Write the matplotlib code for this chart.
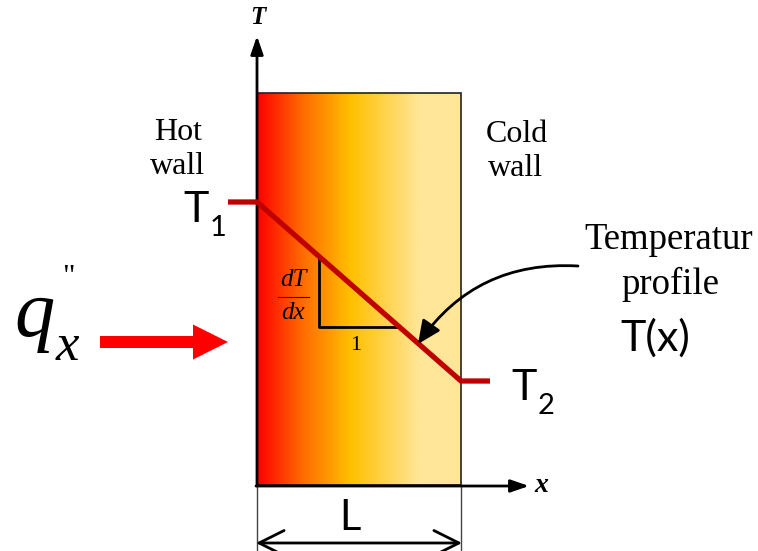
import matplotlib.pyplot as plt
import numpy as np
from matplotlib.colors import LinearSegmentedColormap
from matplotlib.patches import FancyArrow, FancyArrowPatch, Rectangle

# wall geometry (pixel coordinates, y downwards)
wall_x = [257, 461]
wall_y = [93, 485]
# gradient stops across the wall
grad_pos = [0.0, 0.22, 0.46, 0.80, 1.0]
grad_col = ['#FF0000', '#FF6A00', '#FFC000', '#FFE699', '#FFE699']
# temperature profile
profile_x = [228, 257, 461, 490]
profile_y = [202, 202, 381, 381]
# slope triangle
tri_x = [319, 319, 398]
tri_y = [257, 327, 327]

serif = 'Liberation Serif'
sans = 'Lato'

fig = plt.figure(figsize=(7.58, 5.51), dpi=100)
ax = fig.add_axes([0, 0, 1, 1])
ax.set_xlim(0, 758)
ax.set_ylim(551, 0)
ax.axis('off')

# gradient wall
cmap = LinearSegmentedColormap.from_list('wall', list(zip(grad_pos, grad_col)))
grad = np.linspace(0, 1, 400).reshape(1, -1)
ax.imshow(grad, cmap=cmap, aspect='auto', extent=[wall_x[0], wall_x[1], wall_y[1], wall_y[0]], zorder=1)
ax.add_patch(Rectangle((wall_x[0], wall_y[0]), wall_x[1] - wall_x[0], wall_y[1] - wall_y[0],
                       fill=False, ec='#222222', lw=1.2, zorder=2))

# extension lines for L
ax.plot([wall_x[0], wall_x[0]], [wall_y[1], 551], color='#444444', lw=1, zorder=2)
ax.plot([wall_x[1], wall_x[1]], [wall_y[1], 551], color='#444444', lw=1, zorder=2)

# axes arrows
ax.annotate('', xy=(257, 36), xytext=(257, 486),
            arrowprops=dict(arrowstyle='-|>,head_length=1.1,head_width=0.38', lw=2, color='black',
                            shrinkA=0, shrinkB=0, mutation_scale=10), zorder=4)
ax.annotate('', xy=(529, 486), xytext=(256, 486),
            arrowprops=dict(arrowstyle='-|>,head_length=1.1,head_width=0.38', lw=2, color='black',
                            shrinkA=0, shrinkB=0, mutation_scale=10), zorder=4)
ax.text(258, 18, 'T', family=serif, style='italic', weight='bold', fontsize=18, ha='center', va='center')
ax.text(541, 486, 'x', family=serif, style='italic', weight='bold', fontsize=20, ha='center', va='center')

# temperature profile
ax.plot(profile_x, profile_y, color='#C00000', lw=3.8, solid_capstyle='butt', solid_joinstyle='miter', zorder=5)

# slope triangle
ax.plot(tri_x, tri_y, color='black', lw=2, zorder=4)
ax.text(293, 280, 'dT', family=serif, style='italic', fontsize=18, ha='center', va='center')
ax.plot([278, 309], [297, 297], color='black', lw=0.8)
ax.text(293, 313, 'dx', family=serif, style='italic', fontsize=18, ha='center', va='center')
ax.text(356, 346, '1', family=serif, fontsize=16, ha='center', va='center')

# labels
ax.text(178, 132, 'Hot', family=serif, fontsize=23, ha='center', va='center')
ax.text(178, 166, 'wall', family=serif, fontsize=23, ha='center', va='center')
ax.text(517, 134, 'Cold', family=serif, fontsize=23, ha='center', va='center')
ax.text(516, 169, 'wall', family=serif, fontsize=23, ha='center', va='center')

ax.text(196, 210, 'T', family=sans, fontsize=31, ha='center', va='center')
ax.text(218, 228, '1', family=sans, fontsize=21, ha='center', va='center')
ax.text(524, 388, 'T', family=sans, fontsize=31, ha='center', va='center')
ax.text(546, 406, '2', family=sans, fontsize=21, ha='center', va='center')

ax.text(669, 240, 'Temperatur', family=serif, fontsize=26.5, ha='center', va='center')
ax.text(670, 284, 'profile', family=serif, fontsize=26.5, ha='center', va='center')
ax.text(655, 338, 'T(x)', family=sans, fontsize=31, ha='center', va='center')

# curved arrow to the profile
ax.add_patch(FancyArrowPatch((578, 266), (418, 344), connectionstyle='arc3,rad=0.28',
                             arrowstyle='-|>,head_length=0.7,head_width=0.32', mutation_scale=20,
                             lw=2, color='black', shrinkA=0, shrinkB=0, zorder=6))

# heat flux
ax.text(14, 336, 'q', family=serif, style='italic', fontsize=58, ha='left', va='baseline')
ax.text(56, 360, 'x', family=serif, style='italic', fontsize=38, ha='left', va='baseline')
ax.text(68, 278, '"', family=serif, fontsize=22, ha='center', va='center')
ax.add_patch(FancyArrow(100, 342, 128, 0, width=12, head_width=35, head_length=35,
                        length_includes_head=True, color='#FF0000', lw=0))

# L dimension
ax.annotate('', xy=(256, 543), xytext=(462, 543),
            arrowprops=dict(arrowstyle='<->,head_length=0.9,head_width=0.45', lw=2, color='black',
                            shrinkA=0, shrinkB=0, mutation_scale=20))
ax.text(350, 518, 'L', family=sans, fontsize=30, ha='center', va='center')

fig.savefig('out.png', dpi=100)
